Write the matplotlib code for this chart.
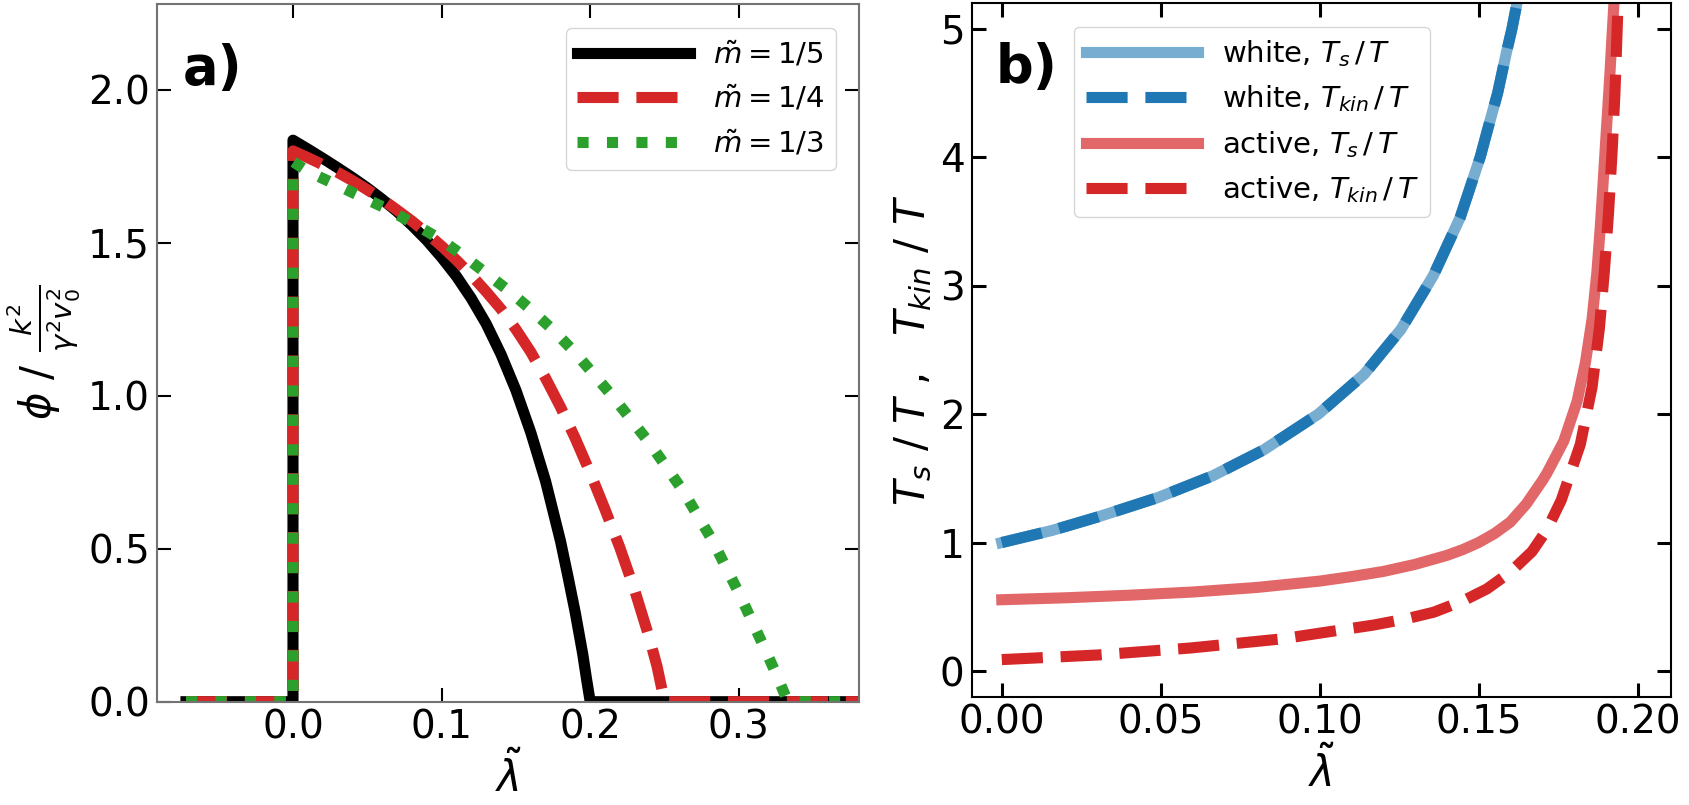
import matplotlib
matplotlib.use("Agg")
import matplotlib.pyplot as plt

# ---- panel a): order parameter vs lambda ----
lam_m5 = [-0.072, 0.0, 0.0, 0.01, 0.02, 0.03, 0.04, 0.05, 0.06, 0.07, 0.08, 0.09, 0.10,
          0.11, 0.12, 0.13, 0.14, 0.15, 0.16, 0.17, 0.18, 0.185, 0.19, 0.195, 0.1975,
          0.2, 0.40]
phi_m5 = [0.0, 0.0, 1.835, 1.806, 1.776, 1.745, 1.713, 1.679, 1.642, 1.602, 1.557, 1.508,
          1.452, 1.39, 1.318, 1.235, 1.135, 1.018, 0.88, 0.72, 0.525, 0.41, 0.29, 0.155,
          0.075, 0.0, 0.0]

lam_m4 = [-0.072, 0.0, 0.0, 0.01, 0.02, 0.03, 0.04, 0.05, 0.06, 0.07, 0.08, 0.09, 0.10,
          0.11, 0.12, 0.13, 0.14, 0.15, 0.16, 0.17, 0.18, 0.19, 0.20, 0.21, 0.22, 0.23,
          0.24, 0.245, 0.25, 0.40]
phi_m4 = [0.0, 0.0, 1.80, 1.778, 1.755, 1.73, 1.703, 1.673, 1.642, 1.607, 1.571, 1.531,
          1.489, 1.443, 1.394, 1.34, 1.283, 1.217, 1.143, 1.057, 0.963, 0.86, 0.748, 0.628,
          0.503, 0.363, 0.205, 0.115, 0.0, 0.0]

lam_m3 = [-0.072, 0.0, 0.0, 0.0103, 0.028, 0.046, 0.064, 0.082, 0.099, 0.1145, 0.130, 0.146,
          0.1616, 0.176, 0.19, 0.2154, 0.24, 0.2625, 0.2827, 0.3006, 0.317, 0.325, 0.333, 0.40]
phi_m3 = [0.0, 0.0, 1.765, 1.732, 1.692, 1.65, 1.609, 1.56, 1.512, 1.458, 1.40, 1.34,
          1.275, 1.21, 1.14, 0.996, 0.845, 0.689, 0.523, 0.35, 0.178, 0.092, 0.0, 0.0]

# ---- panel b): temperature ratios ----
lam_white = [0.0, 0.0159, 0.0303, 0.0491, 0.0664, 0.0823, 0.0996, 0.114, 0.1256, 0.1358,
             0.1442, 0.1505, 0.1529, 0.1560, 0.1588, 0.1605, 0.1624, 0.1640]
white_ts = [1.0, 1.095, 1.20, 1.35, 1.52, 1.72, 2.0, 2.31, 2.66, 3.08,
            3.53, 4.0, 4.22, 4.5, 4.82, 5.0, 5.24, 5.45]
white_tkin = white_ts

lam_act_ts = [0.0, 0.02, 0.04, 0.06, 0.08, 0.10, 0.11, 0.12, 0.13, 0.14, 0.145, 0.15,
              0.155, 0.16, 0.165, 0.17, 0.1715, 0.1768, 0.181, 0.1836, 0.1857, 0.1872,
              0.1883, 0.1893, 0.1902, 0.1912, 0.1920, 0.1927]
act_ts = [0.555, 0.57, 0.59, 0.615, 0.65, 0.70, 0.735, 0.775, 0.83, 0.90, 0.945, 1.00,
          1.07, 1.16, 1.30, 1.48, 1.54, 1.79, 2.10, 2.40, 2.74, 3.10,
          3.46, 3.85, 4.21, 4.6, 4.95, 5.25]

lam_act_tkin = [0.0, 0.0303, 0.0592, 0.088, 0.117, 0.127, 0.1359, 0.145, 0.1526, 0.160,
                0.1668, 0.1715, 0.1760, 0.1820, 0.1857, 0.1880, 0.1896, 0.1909, 0.1920,
                0.1929, 0.1936, 0.1940]
act_tkin = [0.089, 0.125, 0.179, 0.25, 0.358, 0.405, 0.458, 0.545, 0.639, 0.77,
            0.93, 1.10, 1.33, 1.764, 2.21, 2.667, 3.12, 3.575, 4.04,
            4.5, 5.0, 5.3]

TICK_FS = 28
LAB_FS = 30
LEG_FS = 21

fig = plt.figure(figsize=(16.9, 8.05), dpi=100)
ax1 = fig.add_axes([0.0929, 0.1283, 0.4155, 0.8667])
ax2 = fig.add_axes([0.5749, 0.1345, 0.4138, 0.8618])

# panel a
ax1.plot(lam_m5, phi_m5, color='black', lw=8, label=r'$\tilde{m}=1/5$')
ax1.plot(lam_m4, phi_m4, color='tab:red', lw=8, ls='--', label=r'$\tilde{m}=1/4$')
ax1.plot(lam_m3, phi_m3, color='tab:green', lw=8, ls=':', label=r'$\tilde{m}=1/3$')
ax1.set_xlim(-0.0915, 0.381)
ax1.set_ylim(0, 2.28)
ax1.set_xticks([0.0, 0.1, 0.2, 0.3])
ax1.set_yticks([0.0, 0.5, 1.0, 1.5, 2.0])
ax1.tick_params(direction='in', top=True, right=True, length=10, width=1.5,
                labelsize=TICK_FS, pad=5)
for sp in ax1.spines.values():
    sp.set_color('0.45')
    sp.set_linewidth(1.5)
ax1.set_xlabel(r'$\tilde{\lambda}$', fontsize=LAB_FS)
ax1.set_ylabel(r'$\phi\ /\ \frac{k^2}{\gamma^2 v_0^2}$', fontsize=LAB_FS)
ax1.legend(loc='upper right', bbox_to_anchor=(0.967, 0.966), borderaxespad=0,
           fontsize=LEG_FS, handlelength=3.85)
ax1.text(0.036, 0.886, 'a)', transform=ax1.transAxes, fontsize=38,
         fontweight='bold', ha='left', va='baseline')

# panel b
ax2.plot(lam_white, white_ts, color='tab:blue', alpha=0.6, lw=8,
         label=r'white, $T_s\,/\,T$')
ax2.plot(lam_white, white_tkin, color='tab:blue', lw=8, ls='--',
         label=r'white, $T_{kin}\,/\,T$')
ax2.plot(lam_act_ts, act_ts, color='tab:red', alpha=0.7, lw=8,
         label=r'active, $T_s\,/\,T$')
ax2.plot(lam_act_tkin, act_tkin, color='tab:red', lw=8, ls='--',
         label=r'active, $T_{kin}\,/\,T$')
ax2.set_xlim(-0.0095, 0.2105)
ax2.set_ylim(-0.2, 5.2)
ax2.set_xticks([0.0, 0.05, 0.10, 0.15, 0.20])
ax2.set_xticklabels(['0.00', '0.05', '0.10', '0.15', '0.20'])
ax2.set_yticks([0, 1, 2, 3, 4, 5])
ax2.tick_params(direction='in', top=True, right=True, length=10, width=2.2,
                labelsize=TICK_FS, pad=5)
for sp in ax2.spines.values():
    sp.set_linewidth(1.5)
ax2.set_xlabel(r'$\tilde{\lambda}$', fontsize=LAB_FS)
ax2.set_ylabel(r'$T_s\ /\ T\ ,\ \ T_{kin}\ /\ T$', fontsize=LAB_FS)
ax2.legend(loc='upper left', bbox_to_anchor=(0.147, 0.966), borderaxespad=0,
           fontsize=LEG_FS, handlelength=3.85)
ax2.text(0.035, 0.885, 'b)', transform=ax2.transAxes, fontsize=38,
         fontweight='bold', ha='left', va='baseline')

fig.savefig('out.png', dpi=100)
